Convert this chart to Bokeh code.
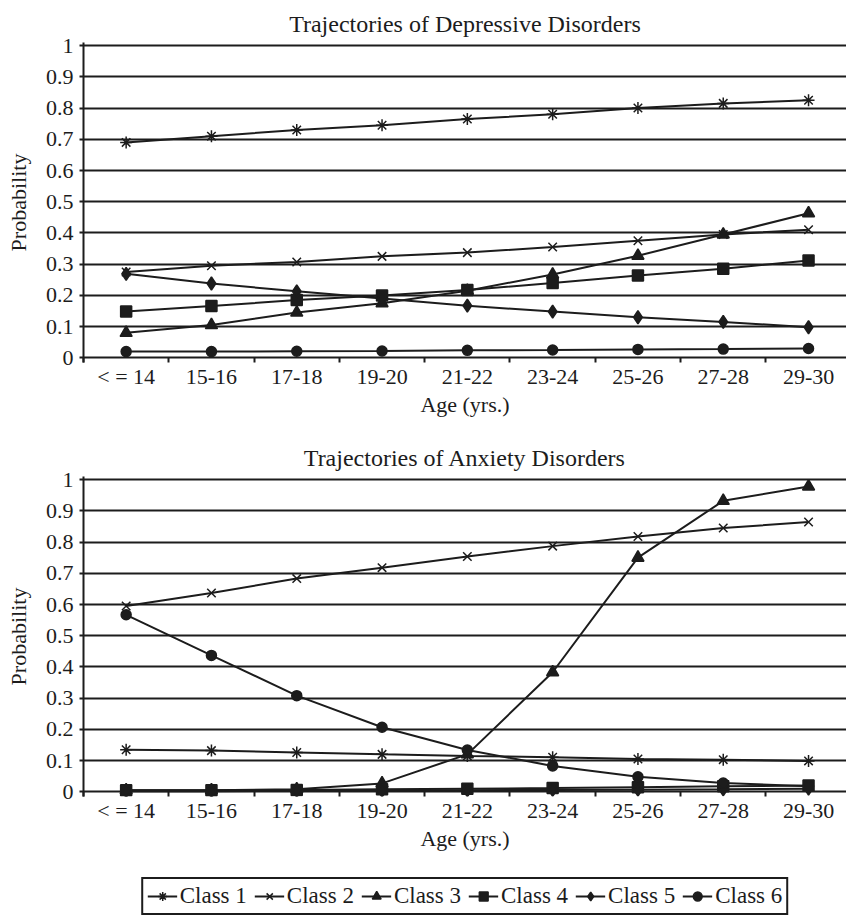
from bokeh.plotting import figure
from bokeh.models import Range1d, FixedTicker, Legend, LegendItem
from bokeh.layouts import column
from bokeh.embed import file_html
from bokeh.resources import INLINE

# ---------------- data ----------------
age_groups = ["< = 14", "15-16", "17-18", "19-20", "21-22", "23-24", "25-26", "27-28", "29-30"]
class_names = ["Class 1", "Class 2", "Class 3", "Class 4", "Class 5", "Class 6"]
y_ticks = [0, 0.1, 0.2, 0.3, 0.4, 0.5, 0.6, 0.7, 0.8, 0.9, 1]

dep_class1 = [0.69, 0.71, 0.73, 0.745, 0.765, 0.78, 0.80, 0.815, 0.825]
dep_class2 = [0.275, 0.295, 0.307, 0.325, 0.337, 0.355, 0.375, 0.395, 0.41]
dep_class3 = [0.08, 0.105, 0.145, 0.175, 0.215, 0.267, 0.327, 0.395, 0.463]
dep_class4 = [0.148, 0.166, 0.185, 0.20, 0.217, 0.24, 0.264, 0.285, 0.312]
dep_class5 = [0.269, 0.238, 0.213, 0.19, 0.167, 0.148, 0.13, 0.115, 0.098]
dep_class6 = [0.02, 0.02, 0.021, 0.022, 0.024, 0.025, 0.027, 0.028, 0.03]

anx_class1 = [0.135, 0.132, 0.126, 0.12, 0.115, 0.111, 0.105, 0.103, 0.099]
anx_class2 = [0.595, 0.637, 0.683, 0.718, 0.754, 0.787, 0.818, 0.845, 0.864]
anx_class3 = [0.005, 0.005, 0.008, 0.027, 0.12, 0.383, 0.75, 0.932, 0.978]
anx_class4 = [0.005, 0.005, 0.006, 0.008, 0.01, 0.012, 0.015, 0.018, 0.02]
anx_class5 = [0.002, 0.002, 0.003, 0.004, 0.005, 0.006, 0.007, 0.008, 0.01]
anx_class6 = [0.567, 0.437, 0.308, 0.207, 0.134, 0.083, 0.048, 0.028, 0.018]

dep_series = [dep_class1, dep_class2, dep_class3, dep_class4, dep_class5, dep_class6]
anx_series = [anx_class1, anx_class2, anx_class3, anx_class4, anx_class5, anx_class6]

# ---------------- style ----------------
markers = ["asterisk", "x", "triangle", "square", "diamond", "circle"]
marker_sizes = [12, 12, 12, 11, 13, 10]
legend_marker_sizes = [9, 9, 9, 7, 9, 8]
INK = "#1c1c1c"
FONT = "Liberation Serif"
FS_TICK = "22px"
FS_TITLE = "24px"
FS_LABEL = "22px"
FS_LEGEND = "23px"

x_pos = [i + 0.5 for i in range(len(age_groups))]
boundaries = list(range(0, len(age_groups) + 1))


def add_series(p, series, xs, sizes):
    out = []
    for vals, mk, sz in zip(series, markers, sizes):
        lr = p.line(xs, vals, line_color=INK, line_width=2)
        fill = None if mk in ("asterisk", "x") else INK
        sr = p.scatter(xs, vals, marker=mk, size=sz, line_color=INK,
                       line_width=1.5, fill_color=fill)
        out.append((lr, sr))
    return out


def make_fig(title, series):
    p = figure(width=846, height=434,
               x_range=Range1d(0, 8.945), y_range=Range1d(-0.015, 1.01),
               output_backend="svg", toolbar_location=None,
               min_border_left=83, min_border_right=0, min_border_top=42,
               min_border_bottom=72)
    p.background_fill_color = "white"
    p.border_fill_color = "white"
    p.outline_line_color = None

    p.title.text = title
    p.title.align = "center"
    p.title.text_font = FONT
    p.title.text_font_size = FS_TITLE
    p.title.text_font_style = "normal"
    p.title.text_color = INK
    p.title.standoff = 12

    # y axis
    p.yaxis.ticker = FixedTicker(ticks=y_ticks)
    p.yaxis.major_label_overrides = {t: f"{t:g}" for t in y_ticks}
    p.yaxis.axis_label = "Probability"
    p.yaxis.axis_line_color = INK
    p.yaxis.axis_line_width = 2
    p.yaxis.major_tick_line_color = INK
    p.yaxis.major_tick_line_width = 2
    p.yaxis.major_tick_in = 0
    p.yaxis.major_tick_out = 4
    p.yaxis.minor_tick_line_color = None
    p.yaxis.minor_tick_out = 0
    p.yaxis.major_label_standoff = 6
    p.yaxis.axis_label_standoff = 12

    # x axis: labels at category centres, tick marks at boundaries
    p.xaxis.ticker = FixedTicker(ticks=x_pos, minor_ticks=boundaries)
    p.xaxis.major_label_overrides = {x: lab for x, lab in zip(x_pos, age_groups)}
    p.xaxis.axis_label = "Age (yrs.)"
    p.xaxis.axis_line_color = None
    p.xaxis.major_tick_line_color = None
    p.xaxis.major_tick_in = 0
    p.xaxis.major_tick_out = 0
    p.xaxis.minor_tick_line_color = INK
    p.xaxis.minor_tick_line_width = 2
    p.xaxis.minor_tick_in = 5
    p.xaxis.minor_tick_out = 0
    p.xaxis.major_label_standoff = 1
    p.xaxis.axis_label_standoff = 0

    for ax in (p.xaxis, p.yaxis):
        ax.major_label_text_font = FONT
        ax.major_label_text_font_size = FS_TICK
        ax.major_label_text_color = INK
        ax.axis_label_text_font = FONT
        ax.axis_label_text_font_size = FS_LABEL
        ax.axis_label_text_font_style = "normal"
        ax.axis_label_text_color = INK

    p.xgrid.visible = False
    p.ygrid.ticker = FixedTicker(ticks=y_ticks)
    p.ygrid.grid_line_color = INK
    p.ygrid.grid_line_width = 2

    add_series(p, series, x_pos, marker_sizes)
    return p


p1 = make_fig("Trajectories of Depressive Disorders", dep_series)
p2 = make_fig("Trajectories of Anxiety Disorders", anx_series)

# legend strip (placeholder renderers hold a single NaN so only legend glyphs show)
pl = figure(width=846, height=52, x_range=Range1d(0, 1), y_range=Range1d(0, 1),
            output_backend="svg", toolbar_location=None,
            min_border_left=0, min_border_right=0, min_border_top=0, min_border_bottom=0)
pl.xaxis.visible = False
pl.yaxis.visible = False
pl.grid.visible = False
pl.outline_line_color = None
pl.background_fill_color = "white"
pl.border_fill_color = "white"
nan = float("nan")
pairs = add_series(pl, [[nan] for _ in class_names], [nan], legend_marker_sizes)
items = [LegendItem(label=name, renderers=[lr, sr]) for name, (lr, sr) in zip(class_names, pairs)]
leg = Legend(items=items, orientation="horizontal", location="bottom_center")
leg.label_text_font = FONT
leg.label_text_font_size = FS_LEGEND
leg.label_text_color = INK
leg.glyph_width = 30
leg.glyph_height = 22
leg.label_standoff = 3
leg.spacing = 7
leg.padding = 4
leg.margin = 5
leg.border_line_color = INK
leg.border_line_alpha = 1.0
leg.border_line_width = 2
leg.background_fill_color = "white"
pl.add_layout(leg, "center")

layout = column(p1, p2, pl)
open("out.html", "w").write(file_html(layout, INLINE))
